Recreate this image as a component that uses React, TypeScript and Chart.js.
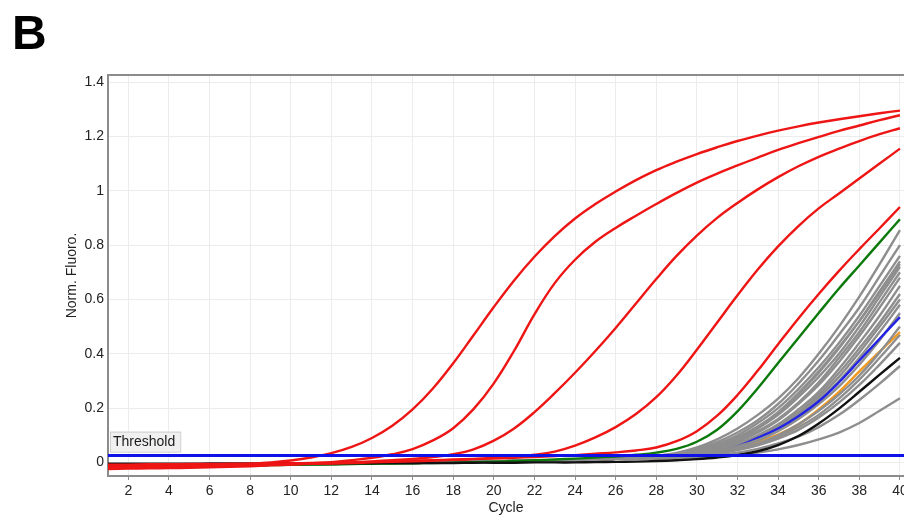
import React, { useEffect, useRef } from "react";
import { Chart, registerables } from "chart.js";

Chart.register(...registerables);

// ---- data ----
const cycles = [1,2,3,4,5,6,7,8,9,10,11,12,13,14,15,16,17,18,19,20,21,22,23,24,25,26,27,28,29,30,31,32,33,34,35,36,37,38,39,40];
const xTicks = [2,4,6,8,10,12,14,16,18,20,22,24,26,28,30,32,34,36,38,40];
const yTicks = [0,0.2,0.4,0.6,0.8,1,1.2,1.4];
const thresholdValue = 0.025;
const thresholdLabel = "Threshold";
const panelLabel = "B";
const xTitle = "Cycle";
const yTitle = "Norm. Fluoro.";

const red1 = [-0.020,-0.019,-0.018,-0.016,-0.014,-0.012,-0.009,-0.005,0.000,0.007, 0.018,0.034,0.057,0.090,0.135,0.195,0.272,0.365,0.468,0.572, 0.670,0.757,0.833,0.898,0.951,0.997,1.039,1.076,1.107,1.135, 1.160,1.183,1.203,1.221,1.237,1.251,1.263,1.274,1.285,1.295];
const red2 = [-0.024,-0.023,-0.022,-0.021,-0.020,-0.018,-0.016,-0.014,-0.011,-0.008, -0.004,0.001,0.008,0.017,0.030,0.049,0.081,0.126,0.196,0.291, 0.411,0.545,0.660,0.746,0.812,0.863,0.908,0.951,0.992,1.030, 1.063,1.093,1.122,1.150,1.175,1.198,1.220,1.240,1.260,1.278];
const red3 = [-0.016,-0.015,-0.015,-0.014,-0.013,-0.012,-0.011,-0.010,-0.009,-0.007, -0.005,-0.003,0.000,0.004,0.008,0.013,0.020,0.030,0.048,0.080, 0.125,0.185,0.255,0.330,0.410,0.495,0.585,0.675,0.760,0.835, 0.900,0.955,1.005,1.050,1.090,1.125,1.155,1.183,1.208,1.230];
const red4 = [-0.012,-0.012,-0.011,-0.011,-0.010,-0.010,-0.009,-0.008,-0.007,-0.006, -0.005,-0.004,-0.002,0.000,0.002,0.004,0.007,0.010,0.013,0.017, 0.021,0.028,0.040,0.062,0.092,0.130,0.178,0.240,0.320,0.415, 0.515,0.615,0.710,0.795,0.870,0.935,0.990,1.045,1.100,1.155];
const red5 = [-0.008,-0.008,-0.007,-0.007,-0.006,-0.006,-0.005,-0.005,-0.004,-0.003, -0.002,-0.001,0.000,0.002,0.004,0.006,0.008,0.010,0.012,0.014, 0.017,0.020,0.023,0.027,0.032,0.037,0.044,0.055,0.078,0.115, 0.172,0.248,0.338,0.435,0.530,0.620,0.705,0.785,0.862,0.940];
const green = [-0.016,-0.016,-0.015,-0.015,-0.014,-0.013,-0.012,-0.011,-0.010,-0.009, -0.008,-0.007,-0.006,-0.005,-0.004,-0.003,-0.002,-0.001,0.001,0.003, 0.005,0.008,0.011,0.014,0.018,0.022,0.028,0.036,0.050,0.076, 0.120,0.188,0.273,0.366,0.458,0.550,0.640,0.725,0.810,0.895];
const black = [-0.005,-0.005,-0.005,-0.005,-0.005,-0.004,-0.004,-0.004,-0.004,-0.004, -0.003,-0.003,-0.003,-0.003,-0.002,-0.002,-0.002,-0.002,-0.001,-0.001, -0.001,0.000,0.000,0.000,0.001,0.002,0.003,0.005,0.008,0.012, 0.018,0.027,0.041,0.064,0.097,0.143,0.198,0.260,0.323,0.385];
const blueSample = [-0.012,-0.012,-0.011,-0.011,-0.010,-0.010,-0.009,-0.008,-0.007,-0.006, -0.005,-0.004,-0.003,-0.002,-0.001,0.000,0.001,0.002,0.003,0.004, 0.005,0.006,0.008,0.010,0.012,0.015,0.018,0.022,0.028,0.037, 0.050,0.068,0.092,0.125,0.170,0.225,0.295,0.375,0.455,0.535];
const orangeSample = [-0.013,-0.013,-0.012,-0.012,-0.011,-0.011,-0.010,-0.009,-0.008,-0.007, -0.006,-0.005,-0.004,-0.003,-0.002,-0.001,0.000,0.001,0.002,0.003, 0.004,0.005,0.007,0.009,0.011,0.014,0.017,0.021,0.026,0.033, 0.043,0.057,0.076,0.102,0.140,0.195,0.260,0.335,0.408,0.480];

// gray samples: baseline (cycles 1-27) + rise (cycles 28-40)
const grayBaseA = [-0.016,-0.015,-0.015,-0.014,-0.013,-0.012,-0.011,-0.010,-0.009,-0.008,-0.007,-0.006,-0.005,-0.004,-0.003,-0.002,-0.001,0.000,0.001,0.002,0.003,0.004,0.006,0.008,0.010,0.013,0.016];
const grayBaseB = [-0.010,-0.010,-0.009,-0.009,-0.008,-0.008,-0.007,-0.007,-0.006,-0.005,-0.004,-0.004,-0.003,-0.002,-0.001,0.000,0.001,0.002,0.003,0.004,0.005,0.006,0.007,0.009,0.011,0.013,0.015];
const gray1 = [0.025,0.035,0.055,0.085,0.125,0.175,0.235,0.310,0.400,0.500,0.610,0.730,0.855];
const gray2 = [0.022,0.032,0.050,0.075,0.110,0.155,0.215,0.290,0.375,0.470,0.570,0.685,0.800];
const gray3 = [0.022,0.030,0.045,0.068,0.100,0.145,0.200,0.270,0.350,0.440,0.540,0.650,0.760];
const gray4 = [0.020,0.028,0.040,0.060,0.090,0.130,0.180,0.250,0.330,0.420,0.520,0.630,0.740];
const gray5 = [0.020,0.028,0.040,0.058,0.085,0.125,0.175,0.240,0.315,0.400,0.500,0.610,0.720];
const gray6 = [0.020,0.027,0.038,0.055,0.080,0.115,0.160,0.220,0.295,0.385,0.480,0.590,0.700];
const gray7 = [0.019,0.026,0.035,0.050,0.075,0.110,0.155,0.215,0.285,0.370,0.465,0.570,0.680];
const gray8 = [0.018,0.024,0.032,0.046,0.068,0.100,0.140,0.195,0.260,0.345,0.440,0.540,0.650];
const gray9 = [0.018,0.023,0.030,0.044,0.065,0.095,0.135,0.185,0.250,0.330,0.420,0.515,0.620];
const gray10 = [0.018,0.023,0.030,0.040,0.060,0.088,0.125,0.170,0.230,0.300,0.385,0.480,0.580];
const gray11 = [0.017,0.022,0.028,0.038,0.055,0.080,0.115,0.160,0.215,0.280,0.360,0.450,0.550];
const gray12 = [0.017,0.021,0.026,0.036,0.050,0.070,0.100,0.140,0.190,0.250,0.320,0.405,0.500];
const gray13 = [0.017,0.021,0.025,0.034,0.048,0.068,0.095,0.130,0.175,0.235,0.305,0.385,0.470];
const gray14 = [0.017,0.020,0.024,0.032,0.045,0.063,0.088,0.120,0.165,0.220,0.285,0.360,0.440];
const gray15 = [0.015,0.017,0.020,0.027,0.036,0.050,0.070,0.095,0.130,0.175,0.230,0.290,0.355];
const gray16 = [0.014,0.016,0.018,0.022,0.028,0.036,0.048,0.064,0.085,0.110,0.145,0.190,0.236];
const gray17 = [0.021,0.029,0.042,0.062,0.092,0.132,0.185,0.255,0.335,0.425,0.520,0.625,0.730];
const gray18 = [0.018,0.024,0.031,0.043,0.062,0.090,0.128,0.178,0.240,0.315,0.405,0.500,0.600];

// ---- styles ----
const RED = "#ee1515";
const GRAY = "#8e8e8e";
const FONT = '"Liberation Sans", Arial, sans-serif';

function pts(values: number[]) {
  return cycles.map((c, i) => ({ x: c, y: values[i] }));
}

function line(values: number[], color: string, width = 2.4) {
  return {
    data: pts(values),
    borderColor: color,
    borderWidth: width,
    pointRadius: 0,
    fill: false,
    tension: 0.4,
  };
}

const framePlugin = {
  id: "frameAndThreshold",
  afterDraw(chart: any) {
    const { ctx, chartArea } = chart;
    const { left, right, top } = chartArea;
    const yPx = chart.scales.y.getPixelForValue(thresholdValue);
    ctx.save();
    ctx.strokeStyle = "#8c8c8c";
    ctx.lineWidth = 2;
    ctx.beginPath();
    ctx.moveTo(left - 1, top);
    ctx.lineTo(right, top);
    ctx.stroke();

    ctx.font = `14px ${FONT}`;
    const w = ctx.measureText(thresholdLabel).width + 8;
    const bh = 20;
    const bx = left + 2;
    const by = yPx - 24;
    ctx.fillStyle = "#f0f0f0";
    ctx.fillRect(bx, by, w, bh);
    ctx.strokeStyle = "#cfcfcf";
    ctx.lineWidth = 1;
    ctx.strokeRect(bx + 0.5, by + 0.5, w, bh);
    ctx.fillStyle = "#1a1a1a";
    ctx.textBaseline = "middle";
    ctx.textAlign = "left";
    ctx.fillText(thresholdLabel, bx + 3, by + bh / 2 + 1);
    ctx.restore();
  },
};

export default function App() {
  const ref = useRef<HTMLCanvasElement>(null);

  useEffect(() => {
    if (!ref.current) return;
    const grays = (base: number[], rise: number[]) => line(base.concat(rise), GRAY, 2.4);
    const datasets: any[] = [
      {
        data: [{ x: 1, y: thresholdValue }, { x: 40.2, y: thresholdValue }],
        borderColor: "#1010e8",
        borderWidth: 3,
        pointRadius: 0,
        fill: false,
      },
      line(red1, RED),
      line(red2, RED),
      line(red3, RED),
      line(red4, RED),
      line(red5, RED),
      line(black, "#111111"),
      line(green, "#0b7a0b"),
      grays(grayBaseA, gray1),
      grays(grayBaseB, gray2),
      grays(grayBaseA, gray3),
      grays(grayBaseB, gray17),
      grays(grayBaseA, gray4),
      grays(grayBaseB, gray5),
      grays(grayBaseA, gray6),
      grays(grayBaseB, gray7),
      grays(grayBaseA, gray8),
      line(blueSample, "#2323e6"),
      grays(grayBaseB, gray18),
      grays(grayBaseA, gray9),
      grays(grayBaseB, gray10),
      grays(grayBaseA, gray11),
      grays(grayBaseB, gray12),
      line(orangeSample, "#f29a1f"),
      grays(grayBaseA, gray13),
      grays(grayBaseB, gray14),
      grays(grayBaseA, gray15),
      grays(grayBaseB, gray16),
    ];

    const chart = new Chart(ref.current, {
      type: "line",
      data: { datasets },
      plugins: [framePlugin],
      options: {
        responsive: false,
        animation: false,
        events: [],
        layout: { padding: { left: 0, top: 75, right: 26, bottom: 0 } },
        plugins: { legend: { display: false }, tooltip: { enabled: false } },
        scales: {
          x: {
            type: "linear",
            min: 1,
            max: 40.2,
            afterBuildTicks: (s: any) => {
              s.ticks = xTicks.map((v) => ({ value: v }));
            },
            afterFit: (s: any) => {
              s.height = 45;
            },
            ticks: {
              autoSkip: false,
              maxRotation: 0,
              padding: 3,
              color: "#222",
              font: { family: FONT, size: 14 },
            },
            grid: { color: "#ececec", tickLength: 4, tickColor: "#8c8c8c", lineWidth: 1 },
            border: { color: "#8c8c8c", width: 2 },
            title: {
              display: true,
              text: xTitle,
              color: "#222",
              font: { family: FONT, size: 14 },
              padding: { top: 0, bottom: 4 },
            },
          },
          y: {
            type: "linear",
            min: -0.05,
            max: 1.426,
            afterBuildTicks: (s: any) => {
              s.ticks = yTicks.map((v) => ({ value: v }));
            },
            afterFit: (s: any) => {
              s.width = 108;
            },
            ticks: {
              padding: 4,
              color: "#222",
              font: { family: FONT, size: 14 },
              callback: (v: any) => String(Number(Number(v).toFixed(1))),
            },
            grid: { color: "#ececec", drawTicks: false, lineWidth: 1 },
            border: { color: "#8c8c8c", width: 2 },
            title: {
              display: true,
              text: yTitle,
              color: "#222",
              font: { family: FONT, size: 14 },
              padding: { top: 64, bottom: 0 },
            },
          },
        },
      },
    } as any);
    return () => chart.destroy();
  }, []);

  return (
    <div
      style={{
        position: "fixed",
        left: 0,
        top: 0,
        width: 904,
        height: 521,
        overflow: "hidden",
        background: "#ffffff",
      }}
    >
      <canvas
        ref={ref}
        width={930}
        height={521}
        style={{ position: "absolute", left: 0, top: 0, width: 930, height: 521 }}
      />
      <div
        style={{
          position: "absolute",
          left: 12,
          top: 9,
          fontFamily: FONT,
          fontWeight: 700,
          fontSize: 48,
          lineHeight: "48px",
          color: "#000",
        }}
      >
        {panelLabel}
      </div>
    </div>
  );
}
